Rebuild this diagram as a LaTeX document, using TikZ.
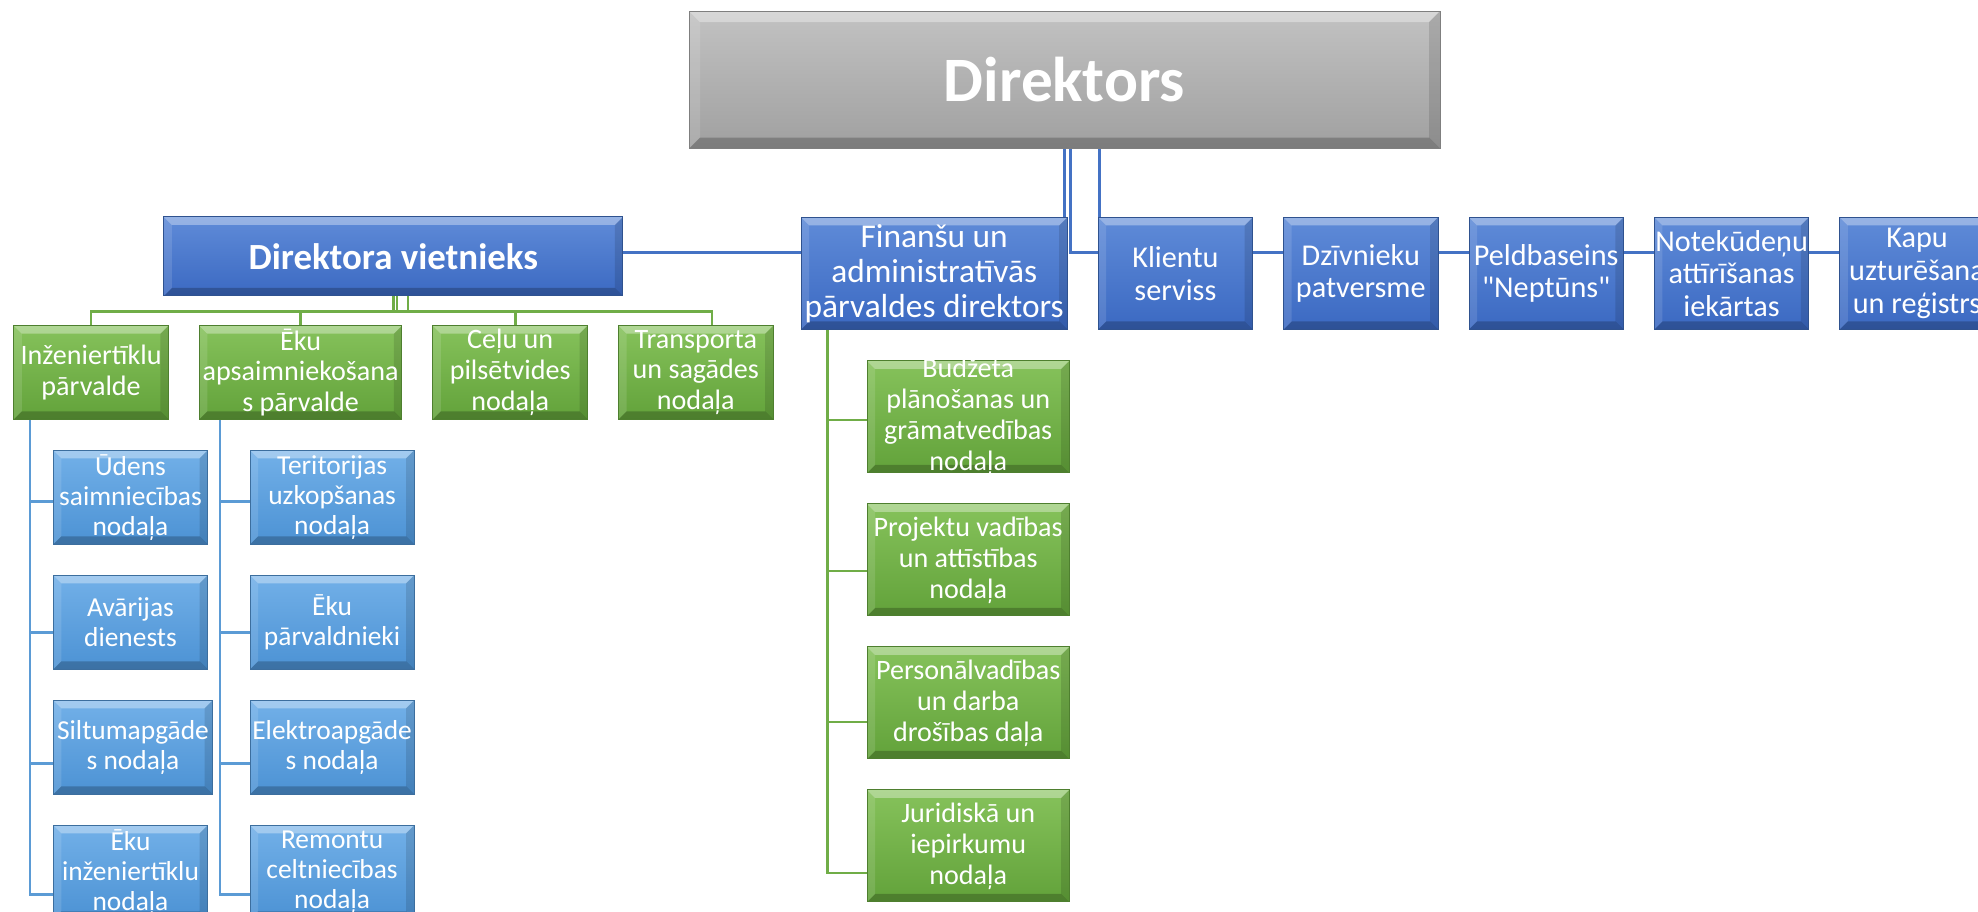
\documentclass[tikz,border=0pt]{standalone}
\usepackage{fontspec}
\setmainfont{Carlito}[Ligatures=TeXOff]
\usetikzlibrary{positioning}

\definecolor{dirtop}{HTML}{C2C2C2}
\definecolor{dirbottom}{HTML}{A0A0A0}
\definecolor{dirrim}{HTML}{7F7F7F}
\definecolor{bluetop}{HTML}{5F8BD8}
\definecolor{bluebottom}{HTML}{3B69C2}
\definecolor{bluerim}{HTML}{2F528F}
\definecolor{greentop}{HTML}{86C25B}
\definecolor{greenbottom}{HTML}{62A23A}
\definecolor{greenrim}{HTML}{4E7F2F}
\definecolor{skytop}{HTML}{72B0E8}
\definecolor{skybottom}{HTML}{4C92D4}
\definecolor{skyrim}{HTML}{3C6E9E}
\definecolor{linkblue}{HTML}{4472C4}
\definecolor{linkgreen}{HTML}{70AD47}
\definecolor{linksky}{HTML}{5B9BD5}

\begin{document}
\begin{tikzpicture}[%
    x=0.1mm, y=-0.1mm,
    node distance=3mm,
    bevel/.style={path picture={
        \fill[white, opacity=0.35] (path picture bounding box.north west) -- (path picture bounding box.north east)
            -- ([shift={(-#1,-#1)}]path picture bounding box.north east) -- ([shift={(#1,-#1)}]path picture bounding box.north west) -- cycle;
        \fill[black, opacity=0.22] (path picture bounding box.south west) -- (path picture bounding box.south east)
            -- ([shift={(-#1,#1)}]path picture bounding box.south east) -- ([shift={(#1,#1)}]path picture bounding box.south west) -- cycle;
        \fill[white, opacity=0.12] (path picture bounding box.north west) -- (path picture bounding box.south west)
            -- ([shift={(#1,#1)}]path picture bounding box.south west) -- ([shift={(#1,-#1)}]path picture bounding box.north west) -- cycle;
        \fill[black, opacity=0.12] (path picture bounding box.north east) -- (path picture bounding box.south east)
            -- ([shift={(-#1,#1)}]path picture bounding box.south east) -- ([shift={(-#1,-#1)}]path picture bounding box.north east) -- cycle;
    }},
    bevel/.default=0.8mm,
    orgbox/.style={rectangle, line width=0.1mm, inner sep=0pt, align=center, text=white, bevel},
    dirbox/.style={orgbox, top color=dirtop, bottom color=dirbottom, draw=dirrim, bevel=1.1mm,
        font=\fontsize{18}{20}\selectfont\bfseries},
    bluebox/.style={orgbox, top color=bluetop, bottom color=bluebottom, draw=bluerim,
        minimum width=15.44mm, minimum height=11.2mm, font=\fontsize{8.6}{9.3}\selectfont},
    greenbox/.style={orgbox, top color=greentop, bottom color=greenbottom, draw=greenrim,
        minimum width=15.46mm, minimum height=9.36mm, font=\fontsize{8}{8.8}\selectfont},
    skybox/.style={orgbox, top color=skytop, bottom color=skybottom, draw=skyrim,
        minimum width=15.44mm, minimum height=9.4mm, font=\fontsize{7.8}{8.5}\selectfont},
    bluelink/.style={draw=linkblue, line width=0.25mm},
    greenlink/.style={draw=linkgreen, line width=0.25mm},
    skylink/.style={draw=linksky, line width=0.25mm}]

    \useasboundingbox (0,0) rectangle (1978,912);
    \clip (0,0) rectangle (1978,912);

    \node[dirbox, minimum width=75.1mm, minimum height=13.75mm] (direktors) at (1064.5,79.8) {Direktors};

    \node[bluebox, minimum width=45.9mm, minimum height=7.9mm, font=\fontsize{10.5}{12}\selectfont\bfseries]
        (vietnieks) at (393.3,256.5) {Direktora vietnieks};
    \node[bluebox, minimum width=26.6mm, font=\fontsize{9.5}{10}\selectfont] (fin_dir) at (934.2,273.4)
        {Finanšu un\\administratīvās\\pārvaldes direktors};
    \node[bluebox] (klientu_s) [right=of fin_dir] {Klientu\\serviss};
    \node[bluebox] (patversme) [right=of klientu_s] {Dzīvnieku\\patversme};
    \node[bluebox] (baseins) [right=of patversme] {Peldbaseins\\"Neptūns"};
    \node[bluebox] (noteku) [right=of baseins] {Notekūdeņu\\attīrīšanas\\iekārtas};
    \node[bluebox] (kapi) [right=of noteku] {Kapu\\uzturēšana\\un reģistrs};

    \node[greenbox] (inz_parv) at (91.1,372.5) {Inženiertīklu\\pārvalde};
    \node[greenbox, minimum width=20.25mm] (eku_parv) [right=of inz_parv] {Ēku\\apsaimniekošana\\s pārvalde};
    \node[greenbox] (celi) [right=of eku_parv] {Ceļu un\\pilsētvides\\nodaļa};
    \node[greenbox] (transports) [right=of celi] {Transporta\\un sagādes\\nodaļa};

    \node[skybox] (udens) [below right=3mm and 3.95mm of inz_parv.south west] {Ūdens\\saimniecības\\nodaļa};
    \node[skybox] (avarijas) [below right=3mm and 0mm of udens.south west] {Avārijas\\dienests};
    \node[skybox, minimum width=15.94mm] (siltums) [below right=3mm and 0mm of avarijas.south west] {Siltumapgāde\\s nodaļa};
    \node[skybox] (eku_inz) [below right=3mm and 0mm of siltums.south west] {Ēku\\inženiertīklu\\nodaļa};

    \node[skybox, minimum width=16.4mm] (teritorija) [below right=3mm and 5.07mm of eku_parv.south west] {Teritorijas\\uzkopšanas\\nodaļa};
    \node[skybox, minimum width=16.4mm] (parvaldnieki) [below=of teritorija] {Ēku\\pārvaldnieki};
    \node[skybox, minimum width=16.4mm] (elektro) [below=of parvaldnieki] {Elektroapgāde\\s nodaļa};
    \node[skybox, minimum width=16.4mm] (remonts) [below=of elektro] {Remontu\\celtniecības\\nodaļa};

    \node[greenbox, minimum width=20.2mm, minimum height=11.2mm, inner ysep=-0.5mm] (budzets)
        [below right=3.06mm and 6.6mm of fin_dir.south west] {Budžeta\\plānošanas un\\grāmatvedības\\nodaļa};
    \node[greenbox, minimum width=20.2mm, minimum height=11.2mm] (projekti) [below=of budzets] {Projektu vadības\\un attīstības\\nodaļa};
    \node[greenbox, minimum width=20.2mm, minimum height=11.2mm] (personals) [below=of projekti] {Personālvadības\\un darba\\drošības daļa};
    \node[greenbox, minimum width=20.2mm, minimum height=11.2mm] (juristi) [below=of personals] {Juridiskā un\\iepirkumu\\nodaļa};

    \coordinate (bus) at ([yshift=-3.55mm]fin_dir.north);
    \coordinate (vbus) at ([yshift=-1.5mm]vietnieks.south);
    \coordinate (inz_trunk) at ([xshift=1.69mm]inz_parv.south west);
    \coordinate (eku_trunk) at ([xshift=2.1mm]eku_parv.south west);
    \coordinate (fin_trunk) at ([xshift=2.67mm]fin_dir.south west);

    \draw[bluelink] (vietnieks.east |- bus) -- (fin_dir.west |- bus);
    \draw[bluelink] (direktors.south) -- (direktors.south |- fin_dir.north);
    \draw[bluelink] ([xshift=0.6mm]direktors.south) |- (klientu_s.west |- bus);
    \draw[bluelink] ([xshift=0.2mm]klientu_s.north west) -- ([xshift=0.2mm]klientu_s.north west |- direktors.south);
    \foreach \a/\b in {klientu_s/patversme, patversme/baseins, baseins/noteku, noteku/kapi}
        \draw[bluelink] (\a.east |- bus) -- (\b.west |- bus);

    \foreach \dx in {0, 0.35, 1.45}
        \draw[greenlink] ([xshift=\dx mm]vietnieks.south) -- ([xshift=\dx mm]vbus);
    \draw[greenlink] (inz_parv.north) |- (vbus) -| ([xshift=1.6mm]transports.north);
    \foreach \n/\dx in {eku_parv/0, celi/0.55}
        \draw[greenlink] ([xshift=\dx mm]\n.north) -- ([xshift=\dx mm]\n.north |- vbus);

    \foreach \n/\dy in {udens/0.4, avarijas/1.0, siltums/1.6, eku_inz/2.2}
        \draw[skylink] ([yshift=-\dy mm]\n.west) -| (inz_trunk);
    \foreach \n/\dy in {teritorija/0.4, parvaldnieki/1.0, elektro/1.6, remonts/2.2}
        \draw[skylink] ([yshift=-\dy mm]\n.west) -| (eku_trunk);
    \foreach \n/\dy in {budzets/0.3, projekti/1.1, personals/1.9, juristi/2.7}
        \draw[greenlink] ([yshift=-\dy mm]\n.west) -| (fin_trunk);
\end{tikzpicture}
\end{document}
